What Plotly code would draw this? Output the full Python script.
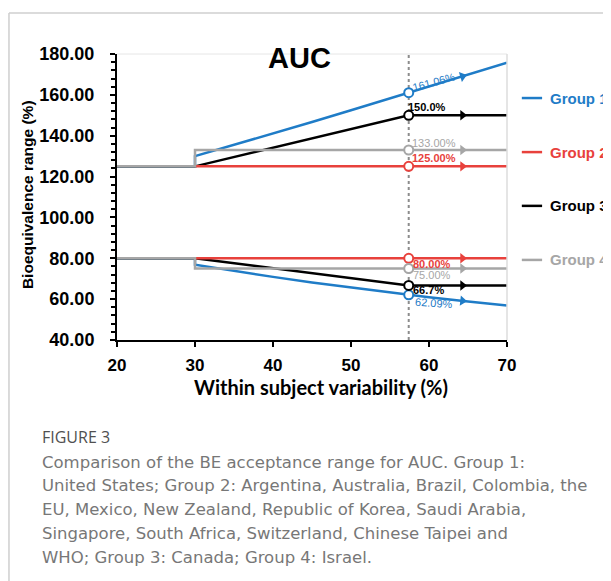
import numpy as np
import plotly.graph_objects as go

# ---------------- data ----------------
g1_x = [20, 30, 30, 35, 40, 45, 50, 57.4, 60, 65, 70]
g1_upper = [125, 125, 130.0, 135.5, 141.1, 146.7, 152.5, 161.06, 164.1, 169.9, 175.7]
g1_lower = [80, 80, 76.9, 73.8, 70.9, 68.1, 65.6, 62.09, 60.95, 58.9, 56.9]

g2_x = [30, 70]
g2_upper = [125, 125]
g2_lower = [80, 80]

g3_x = [20, 30, 57.4, 70]
g3_upper = [125, 125, 150.0, 150.0]
g3_lower = [80, 80, 66.7, 66.7]

g4_x = [20, 30, 30, 70]
g4_upper = [125, 125, 133, 133]
g4_lower = [80, 80, 75, 75]

cv_mark = 57.4
cv_arrow = 64.3

group_names = ["Group 1", "Group 2", "Group 3", "Group 4"]
colors = ["#1f7cc7", "#e8413c", "#000000", "#a6a6a6"]

x_ticks = [20, 30, 40, 50, 60, 70]
y_ticks = [40, 60, 80, 100, 120, 140, 160, 180]

labels = [
    # text, x, y, color, angle, bold
    ("161.06%", 60.6, 166.3, colors[0], -15, False),
    ("150.0%", 59.8, 154.0, colors[2], 0, True),
    ("133.00%", 60.6, 136.4, colors[3], 0, False),
    ("125.00%", 60.6, 129.1, colors[1], 0, True),
    ("80.00%", 60.4, 77.0, colors[1], 0, True),
    ("75.00%", 60.4, 71.8, colors[3], 0, False),
    ("66.7%", 59.9, 64.4, colors[2], 0, True),
    ("62.09%", 60.6, 57.9, colors[0], 4, False),
]

series = [
    (g1_x, g1_upper, g1_lower),
    (g2_x, g2_upper, g2_lower),
    (g3_x, g3_upper, g3_lower),
    (g4_x, g4_upper, g4_lower),
]

fig = go.Figure()

# vertical dotted reference line
fig.add_trace(go.Scatter(x=[cv_mark, cv_mark], y=[40, 180], mode="lines",
                         line=dict(color="#8c8c8c", width=2, dash="dot"),
                         showlegend=False, hoverinfo="skip"))

draw_order = [0, 2, 1, 3]
for i in draw_order:
    xs, up, lo = series[i]
    c = colors[i]
    for ys in (up, lo):
        fig.add_trace(go.Scatter(x=xs, y=ys, mode="lines",
                                 line=dict(color=c, width=2.5),
                                 showlegend=False, hoverinfo="skip"))

# arrowheads and open circles
for i in draw_order:
    xs, up, lo = series[i]
    c = colors[i]
    for ys in (up, lo):
        xa = np.array(xs[1:], dtype=float)
        ya = np.array(ys[1:], dtype=float)
        y_arrow = float(np.interp(cv_arrow, xa, ya))
        y_arrow2 = float(np.interp(cv_arrow + 1, xa, ya))
        # angle in pixel space: 7.8 px per x unit, 2.043 px per y unit
        ang = -np.degrees(np.arctan2((y_arrow2 - y_arrow) * 2.043, 7.8))
        fig.add_trace(go.Scatter(x=[cv_arrow], y=[y_arrow], mode="markers",
                                 marker=dict(symbol="triangle-right", size=9,
                                             color=c, angle=ang,
                                             line=dict(width=0)),
                                 showlegend=False, hoverinfo="skip"))
        y_mark = float(np.interp(cv_mark, xa, ya))
        fig.add_trace(go.Scatter(x=[cv_mark], y=[y_mark], mode="markers",
                                 marker=dict(symbol="circle", size=9,
                                             color="white",
                                             line=dict(color=c, width=2)),
                                 showlegend=False, hoverinfo="skip"))

annotations = []
for text, x, y, c, a, b in labels:
    annotations.append(dict(x=x, y=y, xref="x", yref="y",
                            text=("<b>" + text + "</b>") if b else text,
                            showarrow=False, textangle=a,
                            xanchor="center", yanchor="middle",
                            font=dict(family="Arial", size=11, color=c)))

# title
annotations.append(dict(x=0.469, y=0.986, xref="paper", yref="paper", text="<b>AUC</b>",
                        xanchor="center", yanchor="middle",
                        showarrow=False, font=dict(family="Arial", size=29, color="black")))
# axis titles
annotations.append(dict(x=-0.228, y=0.507, xref="paper", yref="paper",
                        text="<b>Bioequivalence range (%)</b>", textangle=-90,
                        xanchor="center", yanchor="middle",
                        showarrow=False, font=dict(family="Arial", size=15.5, color="black")))
annotations.append(dict(x=0.523, y=-0.164, xref="paper", yref="paper",
                        text="<b>Within subject variability (%)</b>",
                        xanchor="center", yanchor="middle",
                        showarrow=False, font=dict(family="Lato", size=20, color="black")))

# custom legend
legend_y = [0.846, 0.657, 0.469, 0.280]
shapes = []
for name, c, ly in zip(group_names, colors, legend_y):
    shapes.append(dict(type="line", xref="paper", yref="paper",
                       x0=1.038, x1=1.090, y0=ly, y1=ly,
                       line=dict(color=c, width=2.5)))
    annotations.append(dict(x=1.105, y=ly, xref="paper", yref="paper",
                            text="<b>" + name + "</b>", xanchor="left", yanchor="middle",
                            showarrow=False,
                            font=dict(family="Arial", size=15, color=c)))

# light plot-frame lines (top and right)
shapes.append(dict(type="line", xref="paper", yref="paper", x0=0, x1=1, y0=1, y1=1,
                   line=dict(color="#e6e6e6", width=1)))
shapes.append(dict(type="line", xref="paper", yref="paper", x0=1, x1=1, y0=0, y1=1,
                   line=dict(color="#dcdcdc", width=1.5)))

# page border
shapes.append(dict(type="line", xref="paper", yref="paper", x0=-0.277, x1=-0.277,
                   y0=1.143, y1=-0.87, line=dict(color="#cfcfcf", width=1.5)))
shapes.append(dict(type="line", xref="paper", yref="paper", x0=-0.277, x1=1.3,
                   y0=1.143, y1=1.143, line=dict(color="#cfcfcf", width=1.5)))

# caption
annotations.append(dict(x=-0.197, y=-0.339, xref="paper", yref="paper",
                        text="FIGURE 3", xanchor="left", yanchor="middle", showarrow=False,
                        font=dict(family="Open Sans", size=16, color="#505050")))
caption_lines = [
    "Comparison of the BE acceptance range for AUC. Group 1:",
    "United States; Group 2: Argentina, Australia, Brazil, Colombia, the",
    "EU, Mexico, New Zealand, Republic of Korea, Saudi Arabia,",
    "Singapore, South Africa, Switzerland, Chinese Taipei and",
    "WHO; Group 3: Canada; Group 4: Israel.",
]
caption_y = [-0.427, -0.510, -0.594, -0.675, -0.759]
for line, cy in zip(caption_lines, caption_y):
    annotations.append(dict(x=-0.197, y=cy, xref="paper", yref="paper",
                            text=line, xanchor="left", yanchor="middle", showarrow=False,
                            font=dict(family="DejaVu Sans", size=16.5, color="#777777")))

# figure is drawn 8 px in from the page edge (body margin), so dimensions are reduced
fig.update_layout(
    width=603, height=573,
    margin=dict(l=109, r=104, t=46, b=241),
    paper_bgcolor="white", plot_bgcolor="white",
    showlegend=False,
    annotations=annotations,
    shapes=shapes,
    xaxis=dict(range=[20, 70], tickvals=x_ticks, showgrid=False, zeroline=False,
               showline=True, linecolor="black", linewidth=2,
               ticks="outside", ticklen=5, tickwidth=2, tickcolor="black",
               ticklabelstandoff=4,
               tickfont=dict(family="Arial", size=17, color="black", weight="bold")),
    yaxis=dict(range=[40, 180], tickvals=y_ticks, tickformat=".2f",
               showgrid=False, zeroline=False,
               showline=True, linecolor="black", linewidth=2,
               ticks="outside", ticklen=5, tickwidth=2, tickcolor="black",
               ticklabelstandoff=12,
               tickfont=dict(family="Arial", size=18, color="black", weight="bold"),
               minor=dict(dtick=4, ticks="outside", ticklen=4, tickwidth=1.5,
                          tickcolor="black", showgrid=False)),
)

fig.write_html("out.html")
